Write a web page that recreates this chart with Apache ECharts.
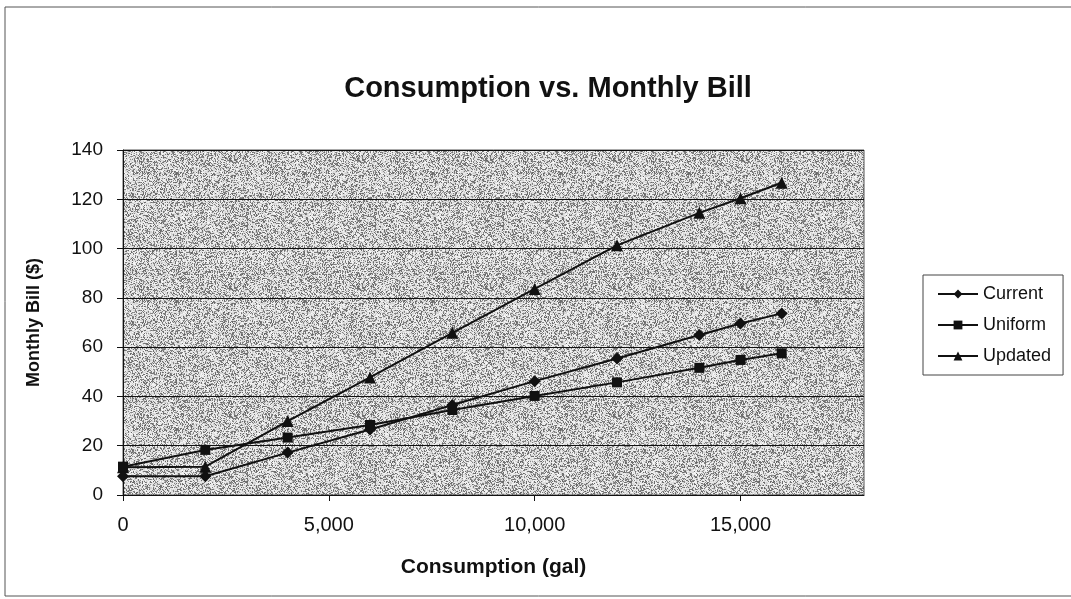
<!DOCTYPE html>
<html>
<head>
<meta charset="utf-8">
<script src="https://cdn.jsdelivr.net/npm/echarts@6/dist/echarts.min.js"></script>
<style>
  html, body { margin: 0; padding: 0; background: #fff; }
  #chart { width: 1071px; height: 599px; }
</style>
</head>
<body>
<div id="chart"></div>
<script>
// gallons per month
var consumption = [0, 2000, 4000, 6000, 8000, 10000, 12000, 14000, 15000, 16000];
// monthly bill ($) for each rate structure
var current = [7.6, 7.6, 17.2, 26.6, 36.5, 46.2, 55.4, 64.9, 69.6, 73.7];
var uniform = [11.5, 18.3, 23.3, 28.4, 34.5, 40.2, 45.7, 51.6, 54.8, 57.5];
var updated = [11.3, 11.5, 30.0, 47.7, 65.8, 83.6, 101.3, 114.5, 120.4, 126.7];
var xTicks = [0, 5000, 10000, 15000];

function pairs(ys) {
  return consumption.map(function (x, i) { return [x, ys[i]]; });
}

// stippled plot-area fill, like the printed Excel pattern (fixed hash, not data)
function stipple() {
  var c = document.createElement('canvas');
  c.width = 128; c.height = 128;
  var ctx = c.getContext('2d');
  var img = ctx.createImageData(c.width, c.height);
  for (var y = 0; y < c.height; y++) {
    for (var x = 0; x < c.width; x++) {
      var h = (Math.imul(x, 374761393) + Math.imul(y, 668265263)) | 0;
      h = Math.imul(h ^ (h >>> 13), 1274126177);
      h = (h ^ (h >>> 16)) >>> 0;
      var g = (h & 255) < 90 ? 100 + (h >>> 24) % 50 : 205 + (h >>> 18) % 45;
      var i = (y * c.width + x) * 4;
      img.data[i] = g; img.data[i + 1] = g; img.data[i + 2] = g; img.data[i + 3] = 255;
    }
  }
  ctx.putImageData(img, 0, 0);
  return c;
}

var font = '"Liberation Sans", Arial, sans-serif';
var ec = echarts.init(document.getElementById('chart'));
ec.setOption({
  backgroundColor: '#fff',
  animation: false,
  title: {
    text: 'Consumption vs. Monthly Bill',
    left: 543,
    textAlign: 'center',
    top: 69,
    textStyle: { fontFamily: font, fontSize: 29, fontWeight: 'bold', color: '#111' }
  },
  graphic: [{
    type: 'rect',
    shape: { x: 5, y: 7, width: 1100, height: 589 },
    style: { fill: 'none', stroke: '#555', lineWidth: 1 },
    silent: true
  }],
  legend: {
    left: 923,
    top: 275,
    orient: 'vertical',
    padding: [10, 12, 10, 14],
    itemGap: 13,
    itemWidth: 40,
    itemHeight: 11,
    borderColor: '#444',
    borderWidth: 1,
    textStyle: { fontFamily: font, fontSize: 18, color: '#111' },
    data: ['Current', 'Uniform', 'Updated']
  },
  grid: {
    left: 123,
    top: 150,
    width: 741,
    height: 345,
    show: true,
    backgroundColor: { image: stipple(), repeat: 'repeat' },
    borderColor: '#555',
    borderWidth: 1
  },
  xAxis: {
    type: 'value',
    min: 0,
    max: 18000,
    interval: 5000,
    name: 'Consumption (gal)',
    nameLocation: 'middle',
    nameGap: 62,
    nameTextStyle: { fontFamily: font, fontSize: 21, fontWeight: 'bold', color: '#111' },
    axisLine: { show: true, lineStyle: { color: '#111', width: 1 } },
    axisTick: { show: true, length: 6, customValues: xTicks, lineStyle: { color: '#111' } },
    axisLabel: {
      customValues: xTicks,
      margin: 20,
      fontFamily: font,
      fontSize: 20,
      color: '#111',
      formatter: function (v) { return v.toLocaleString('en-US'); }
    },
    splitLine: { show: false }
  },
  yAxis: {
    type: 'value',
    min: 0,
    max: 140,
    interval: 20,
    name: 'Monthly Bill ($)',
    nameLocation: 'middle',
    nameGap: 80,
    nameRotate: 90,
    nameTextStyle: { fontFamily: font, fontSize: 18, fontWeight: 'bold', color: '#111' },
    axisLine: { show: true, lineStyle: { color: '#111', width: 1 } },
    axisTick: { show: true, length: 6, lineStyle: { color: '#111' } },
    axisLabel: { margin: 20, fontFamily: font, fontSize: 19, color: '#111' },
    splitLine: { show: true, lineStyle: { color: '#111', width: 1 } }
  },
  series: [{
    name: 'Current',
    type: 'line',
    data: pairs(current),
    symbol: 'diamond',
    symbolSize: 12,
    color: '#111',
    lineStyle: { color: '#111', width: 2 },
    z: 3
  }, {
    name: 'Uniform',
    type: 'line',
    data: pairs(uniform),
    symbol: 'rect',
    symbolSize: 10,
    color: '#111',
    lineStyle: { color: '#111', width: 2 },
    z: 4
  }, {
    name: 'Updated',
    type: 'line',
    data: pairs(updated),
    symbol: 'triangle',
    symbolSize: 12,
    color: '#111',
    lineStyle: { color: '#111', width: 2 },
    z: 2
  }]
});
</script>
</body>
</html>
